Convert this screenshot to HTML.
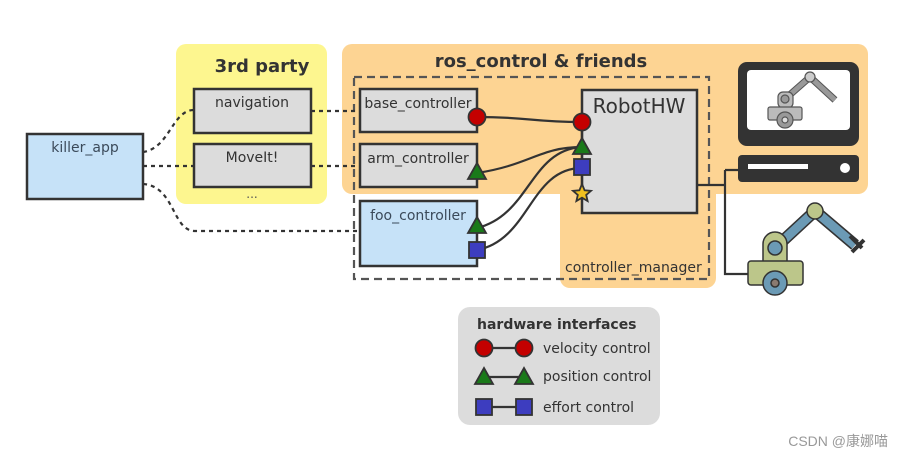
<!DOCTYPE html>
<html><head><meta charset="utf-8"><style>
html,body{margin:0;padding:0;background:#fff;}
svg{display:block;font-family:"DejaVu Sans","Liberation Sans",sans-serif;}
</style></head><body>
<svg width="899" height="458" viewBox="0 0 899 458" xmlns="http://www.w3.org/2000/svg">
<rect x="176" y="44" width="151" height="160" rx="10" fill="#fdf68f"/>
<text x="262" y="72" font-size="18" font-weight="bold" fill="#333" text-anchor="middle">3rd party</text>
<rect x="342" y="44" width="526" height="150" rx="10" fill="#fdd493"/>
<rect x="560" y="150" width="156" height="138" rx="10" fill="#fdd493"/>
<text x="541" y="67" font-size="18" font-weight="bold" fill="#333" text-anchor="middle">ros_control &amp; friends</text>
<rect x="354" y="77" width="355" height="202" fill="none" stroke="#555" stroke-width="2.2" stroke-dasharray="8,5"/>
<text x="565" y="272" font-size="14" fill="#333">controller_manager</text>

<g fill="none" stroke="#333" stroke-width="2.2" stroke-dasharray="4,4">
<path d="M143 152 C170 148,172 110,194 110"/>
<path d="M143 166 L194 166"/>
<path d="M143 184 C175 186,172 231,195 231 L360 231"/>
<path d="M311 111 L360 111"/>
<path d="M311 166 L360 166"/>
</g>

<g stroke="#333" stroke-width="2.5">
<rect x="27" y="134" width="116" height="65" fill="#c6e2f8"/>
<rect x="194" y="89" width="117" height="44" fill="#dcdcdc"/>
<rect x="194" y="144" width="117" height="43" fill="#dcdcdc"/>
<rect x="360" y="89" width="117" height="43" fill="#dcdcdc"/>
<rect x="360" y="144" width="117" height="43" fill="#dcdcdc"/>
<rect x="360" y="201" width="117" height="65" fill="#c6e2f8"/>
<rect x="582" y="90" width="115" height="123" fill="#dcdcdc"/>
</g>
<g font-size="14" text-anchor="middle">
<text x="85" y="152" fill="#3b4a5a">killer_app</text>
<text x="252" y="107" fill="#333">navigation</text>
<text x="252" y="162" fill="#333">MoveIt!</text>
<text x="418" y="108" fill="#333">base_controller</text>
<text x="418" y="163" fill="#333">arm_controller</text>
<text x="418" y="220" fill="#3b4a5a">foo_controller</text>
</g>
<text x="252" y="198" font-size="12" fill="#555" text-anchor="middle">...</text>
<text x="639" y="113" font-size="20" fill="#333" text-anchor="middle">RobotHW</text>

<g fill="none" stroke="#333" stroke-width="2.2">
<path d="M477 117 C530 117,530 122,582 122"/>
<path d="M477 173 C530 165,540 147,582 147"/>
<path d="M477 228 C530 215,530 150,582 147"/>
<path d="M477 250 C530 240,530 168,582 168"/>
<path d="M582 122 L582 193"/>
<path d="M697 185 L725 185 M725 170 L738 170 M725 170 L725 274 L748 274"/>
</g>
<g stroke="#333" stroke-width="1.8">
<circle cx="477" cy="117" r="8.5" fill="#c40000"/>
<circle cx="582" cy="122" r="8.5" fill="#c40000"/>
<polygon points="477,163 486,179 468,179" fill="#1a7a1a"/>
<polygon points="582,138 591,154 573,154" fill="#1a7a1a"/>
<polygon points="477,217 486,233 468,233" fill="#1a7a1a"/>
<rect x="574" y="159" width="16" height="16" fill="#3d3dbf"/>
<rect x="469" y="242" width="16" height="16" fill="#3d3dbf"/>
<polygon points="582,184 584.6,190.3 591,190.8 586.2,195 587.6,201 582,197.7 576.4,201 577.8,195 573,190.8 579.4,190.3" fill="#f0c020"/>
</g>

<rect x="738" y="62" width="121" height="84" rx="9" fill="#333"/>
<rect x="747" y="70" width="103" height="60" rx="4" fill="#fff"/>
<rect x="738" y="155" width="121" height="27" rx="4" fill="#333"/>
<rect x="748" y="164" width="60" height="5" fill="#fff"/>
<circle cx="845" cy="168" r="5" fill="#fff"/>
<g stroke="#555" stroke-width="1.2">
<line x1="785" y1="99" x2="810" y2="77" stroke-width="7" stroke="#555"/>
<line x1="785" y1="99" x2="810" y2="77" stroke-width="5" stroke="#999"/>
<line x1="810" y1="77" x2="835" y2="100" stroke-width="7" stroke="#555"/>
<line x1="810" y1="77" x2="835" y2="100" stroke-width="5" stroke="#999"/>
<rect x="778" y="92" width="15" height="16" rx="5" fill="#bbb"/>
<circle cx="785" cy="99" r="4" fill="#999"/>
<circle cx="810" cy="77" r="5" fill="#ccc"/>
<rect x="768" y="107" width="34" height="13" rx="2" fill="#bbb"/>
<circle cx="785" cy="120" r="8" fill="#999"/>
<circle cx="785" cy="120" r="3" fill="#ddd"/>
</g>

<g stroke="#333" stroke-width="1.5">
<line x1="775" y1="248" x2="815" y2="211" stroke="#333" stroke-width="12"/>
<line x1="775" y1="248" x2="815" y2="211" stroke="#6b9ab5" stroke-width="9"/>
<line x1="815" y1="211" x2="855" y2="245" stroke="#333" stroke-width="12"/>
<line x1="815" y1="211" x2="855" y2="245" stroke="#6b9ab5" stroke-width="9"/>
<path d="M850 236 L862 248 M852 252 L864 240" stroke-width="4"/>
<path d="M763 262 L763 244 A12 12 0 0 1 787 244 L787 262 Z" fill="#bcc68a"/>
<circle cx="775" cy="248" r="7" fill="#6b9ab5"/>
<circle cx="815" cy="211" r="8" fill="#bcc68a"/>
<rect x="748" y="261" width="55" height="24" rx="3" fill="#bcc68a"/>
<circle cx="775" cy="283" r="12" fill="#6b9ab5"/>
<circle cx="775" cy="283" r="4" fill="#8a7a70"/>
</g>

<rect x="458" y="307" width="202" height="118" rx="12" fill="#dcdcdc"/>
<text x="477" y="329" font-size="14" font-weight="bold" fill="#333">hardware interfaces</text>
<g stroke="#333" stroke-width="1.8">
<line x1="484" y1="348" x2="524" y2="348" stroke-width="2.2"/>
<circle cx="484" cy="348" r="8.5" fill="#c40000"/>
<circle cx="524" cy="348" r="8.5" fill="#c40000"/>
<line x1="484" y1="377" x2="524" y2="377" stroke-width="2.2"/>
<polygon points="484,368 493,384 475,384" fill="#1a7a1a"/>
<polygon points="524,368 533,384 515,384" fill="#1a7a1a"/>
<line x1="484" y1="407" x2="524" y2="407" stroke-width="2.2"/>
<rect x="476" y="399" width="16" height="16" fill="#3d3dbf"/>
<rect x="516" y="399" width="16" height="16" fill="#3d3dbf"/>
</g>
<text x="543" y="353" font-size="14" fill="#333">velocity control</text>
<text x="543" y="381" font-size="14" fill="#333">position control</text>
<text x="543" y="412" font-size="14" fill="#333">effort control</text>

<text x="888" y="446" font-size="14" fill="#999" text-anchor="end" font-family="Liberation Sans,Noto Sans CJK SC,sans-serif">CSDN @康娜喵</text>
</svg>
</body></html>
